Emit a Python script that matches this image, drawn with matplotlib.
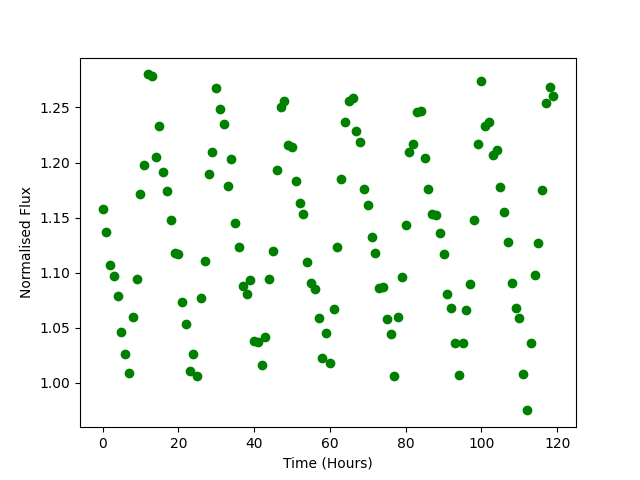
import numpy as np
import matplotlib
matplotlib.use('Agg')
import matplotlib.pyplot as plt

# hours since start
time_hours = np.arange(120)

# normalised flux
flux = [1.158, 1.137, 1.107, 1.097, 1.079, 1.046, 1.026, 1.009, 1.060, 1.094,
        1.171, 1.198, 1.280, 1.279, 1.205, 1.233, 1.191, 1.174, 1.148, 1.118,
        1.117, 1.073, 1.053, 1.011, 1.026, 1.006, 1.077, 1.111, 1.190, 1.210,
        1.268, 1.249, 1.235, 1.179, 1.203, 1.145, 1.123, 1.088, 1.081, 1.093,
        1.038, 1.037, 1.016, 1.042, 1.094, 1.120, 1.193, 1.250, 1.256, 1.216,
        1.214, 1.183, 1.163, 1.153, 1.110, 1.091, 1.085, 1.059, 1.023, 1.045,
        1.018, 1.067, 1.123, 1.185, 1.237, 1.256, 1.259, 1.229, 1.219, 1.176,
        1.161, 1.132, 1.118, 1.086, 1.087, 1.058, 1.044, 1.006, 1.060, 1.096,
        1.143, 1.210, 1.217, 1.246, 1.247, 1.204, 1.176, 1.153, 1.152, 1.136,
        1.117, 1.081, 1.068, 1.036, 1.007, 1.036, 1.066, 1.090, 1.148, 1.217,
        1.274, 1.233, 1.237, 1.207, 1.211, 1.178, 1.155, 1.128, 1.091, 1.068,
        1.059, 1.008, 0.975, 1.036, 1.098, 1.127, 1.175, 1.254, 1.269, 1.260]

fig = plt.figure(figsize=(6.4, 4.8), dpi=100)
plt.plot(time_hours, flux, 'o', color='green')
plt.xlabel('Time (Hours)')
plt.ylabel('Normalised Flux')
plt.savefig('out.png')
plt.close()
